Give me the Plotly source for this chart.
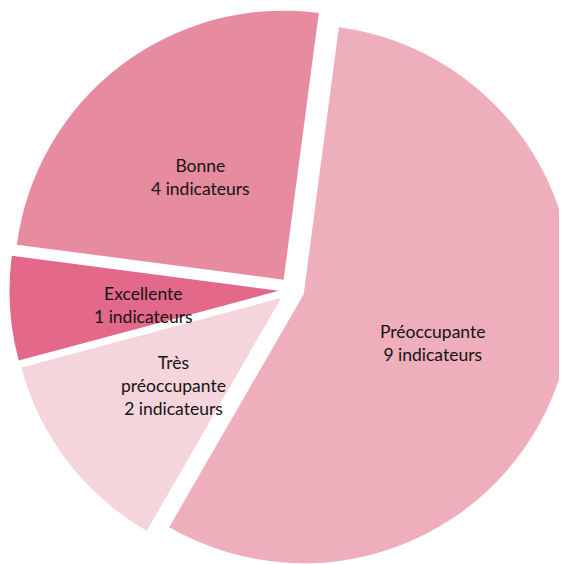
import math

import plotly.graph_objects as go

labels = ["Préoccupante", "Très<br>préoccupante", "Excellente", "Bonne"]
counts = [9, 2, 1, 4]
colors = ["#EFAEBB", "#F5D5DC", "#E3688A", "#E78BA1"]

W, H = 567, 564
pull = 0.048
rotation = 7.5  # start angle of first slice, clockwise from 12 o'clock

fig = go.Figure(
    go.Pie(
        labels=labels,
        values=counts,
        sort=False,
        direction="clockwise",
        rotation=rotation,
        pull=[pull] * len(counts),
        marker=dict(colors=colors, line=dict(color="white", width=0)),
        textinfo="none",
        hoverinfo="label+value",
        domain=dict(x=[0, 1], y=[0, 1]),
    )
)

# label positions along each slice's mid-angle, same geometry as plotly's pie
r = min(W, H) / (2 + 2 * pull)
cx, cy = W / 2, H / 2
total = sum(counts)
start = rotation
annotations = []
for lab, n in zip(labels, counts):
    span = 360 * n / total
    mid = math.radians(start + span / 2)
    dist = r * (0.505 + pull)
    px = cx + dist * math.sin(mid)
    py = cy - dist * math.cos(mid)
    annotations.append(
        dict(
            x=px / W,
            y=1 - py / H,
            xref="paper",
            yref="paper",
            xanchor="center",
            yanchor="middle",
            yshift=-5,
            text=f"{lab}<br>{n} indicateurs",
            showarrow=False,
            font=dict(family="Lato, Carlito, sans-serif", size=17.5, color="#141414"),
            align="center",
        )
    )
    start += span

fig.update_layout(
    width=W,
    height=H,
    margin=dict(l=0, r=0, t=0, b=0),
    showlegend=False,
    paper_bgcolor="white",
    annotations=annotations,
)

fig.write_html("out.html")
